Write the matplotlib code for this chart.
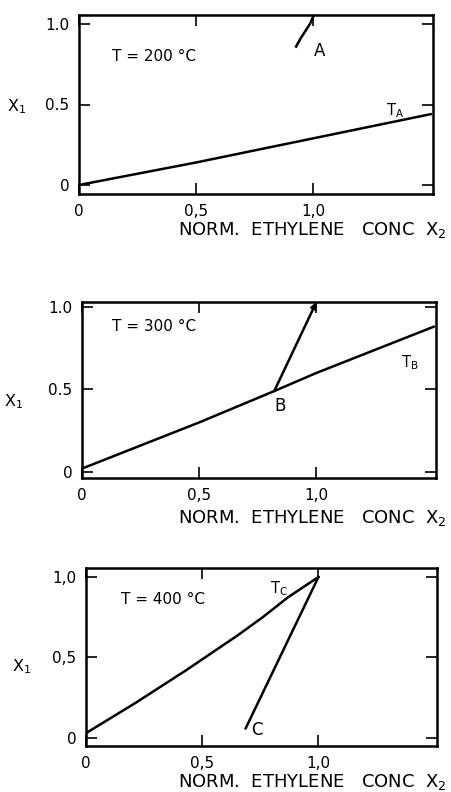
import matplotlib
matplotlib.use("Agg")
import matplotlib.pyplot as plt

plt.rcParams['font.family'] = ['DejaVu Sans']

# Trajectory data (normalized ethylene conc x2 vs x1)
ta_x = [0.0, 0.5, 1.0, 1.5]
ta_y = [0.0, 0.14, 0.29, 0.44]
a_x = [0.926, 0.945, 0.965, 0.985, 1.0]
a_y = [0.86, 0.91, 0.955, 1.0, 1.05]

tb_x = [0.0, 0.5, 0.82, 1.0, 1.5]
tb_y = [0.02, 0.30, 0.49, 0.60, 0.88]
b_x = [0.82, 1.0]
b_y = [0.49, 1.03]

tc_x = [0.0, 0.21, 0.43, 0.65, 0.76, 0.87, 1.0]
tc_y = [0.03, 0.215, 0.42, 0.635, 0.75, 0.875, 1.0]
c_x = [0.687, 1.0]
c_y = [0.06, 1.0]

x_ticks = [0.0, 0.5, 1.0]
x_ticklabels = ["0", "0,5", "1,0"]
y_ticks = [0.0, 0.5, 1.0]
y_ticklabels_top = ["0", "0.5", "1.0"]
y_ticklabels_bot = ["0", "0,5", "1,0"]

temps = ["T = 200 °C", "T = 300 °C", "T = 400 °C"]
xlabel = "NORM.  ETHYLENE   CONC  X$_\\mathrm{2}$"

W, H = 451, 792
fig = plt.figure(figsize=(W / 100, H / 100), dpi=100)

def px_axes(left, top, right, bottom):
    return fig.add_axes([left / W, 1 - bottom / H, (right - left) / W, (bottom - top) / H])

ax1 = px_axes(79, 15, 433, 194)
ax2 = px_axes(82, 302, 436, 478)
ax3 = px_axes(86, 568, 437, 746)

lw = 1.8
fs = 11

panels = [(ax1, y_ticklabels_top, (-0.056, 1.056), (17, 107), 230),
          (ax2, y_ticklabels_top, (-0.037, 1.03), (14, 402), 518),
          (ax3, y_ticklabels_bot, (-0.05, 1.056), (22, 667), 782)]

for ax, ylabs, ylim, ylab_pos, xlab_y in panels:
    ax.set_xlim(0, 1.51)
    ax.set_ylim(*ylim)
    ax.set_xticks(x_ticks)
    ax.set_xticklabels(x_ticklabels, fontsize=fs)
    ax.set_yticks(y_ticks)
    ax.set_yticklabels(ylabs, fontsize=fs)
    ax.tick_params(direction='in', length=8, width=1.2, top=True, right=True, pad=7)
    for s in ax.spines.values():
        s.set_linewidth(1.8)
    fig.text(ylab_pos[0] / W, 1 - ylab_pos[1] / H, "X$_\\mathrm{1}$", fontsize=11.5,
             ha='center', va='center')
    fig.text(447 / W, 1 - xlab_y / H, xlabel, fontsize=13, ha='right', va='center')

# 200 C panel
ax1.plot(ta_x, ta_y, color='black', lw=lw)
ax1.plot(a_x, a_y, color='black', lw=lw, clip_on=False)
ax1.text(1.0, 0.83, "A", fontsize=12, ha='left', va='center')
ax1.text(1.31, 0.46, "T$_\\mathrm{A}$", fontsize=10.5, ha='left', va='center')
ax1.text(0.14, 0.80, temps[0], fontsize=11, ha='left', va='center')

# 300 C panel
ax2.plot(tb_x, tb_y, color='black', lw=lw)
ax2.annotate("", xy=(b_x[1], b_y[1]), xytext=(b_x[0], b_y[0]),
             arrowprops=dict(arrowstyle='-|>', color='black', lw=lw,
                             mutation_scale=8, shrinkA=0, shrinkB=0),
             annotation_clip=False)
ax2.text(0.82, 0.40, "B", fontsize=12, ha='left', va='center')
ax2.text(1.36, 0.66, "T$_\\mathrm{B}$", fontsize=10.5, ha='left', va='center')
ax2.text(0.13, 0.88, temps[1], fontsize=11, ha='left', va='center')

# 400 C panel
ax3.plot(tc_x, tc_y, color='black', lw=lw)
ax3.plot(c_x, c_y, color='black', lw=lw)
ax3.text(0.71, 0.05, "C", fontsize=12, ha='left', va='center')
ax3.text(0.79, 0.93, "T$_\\mathrm{C}$", fontsize=10.5, ha='left', va='center')
ax3.text(0.15, 0.86, temps[2], fontsize=11, ha='left', va='center')

fig.savefig("out.png", dpi=100)
